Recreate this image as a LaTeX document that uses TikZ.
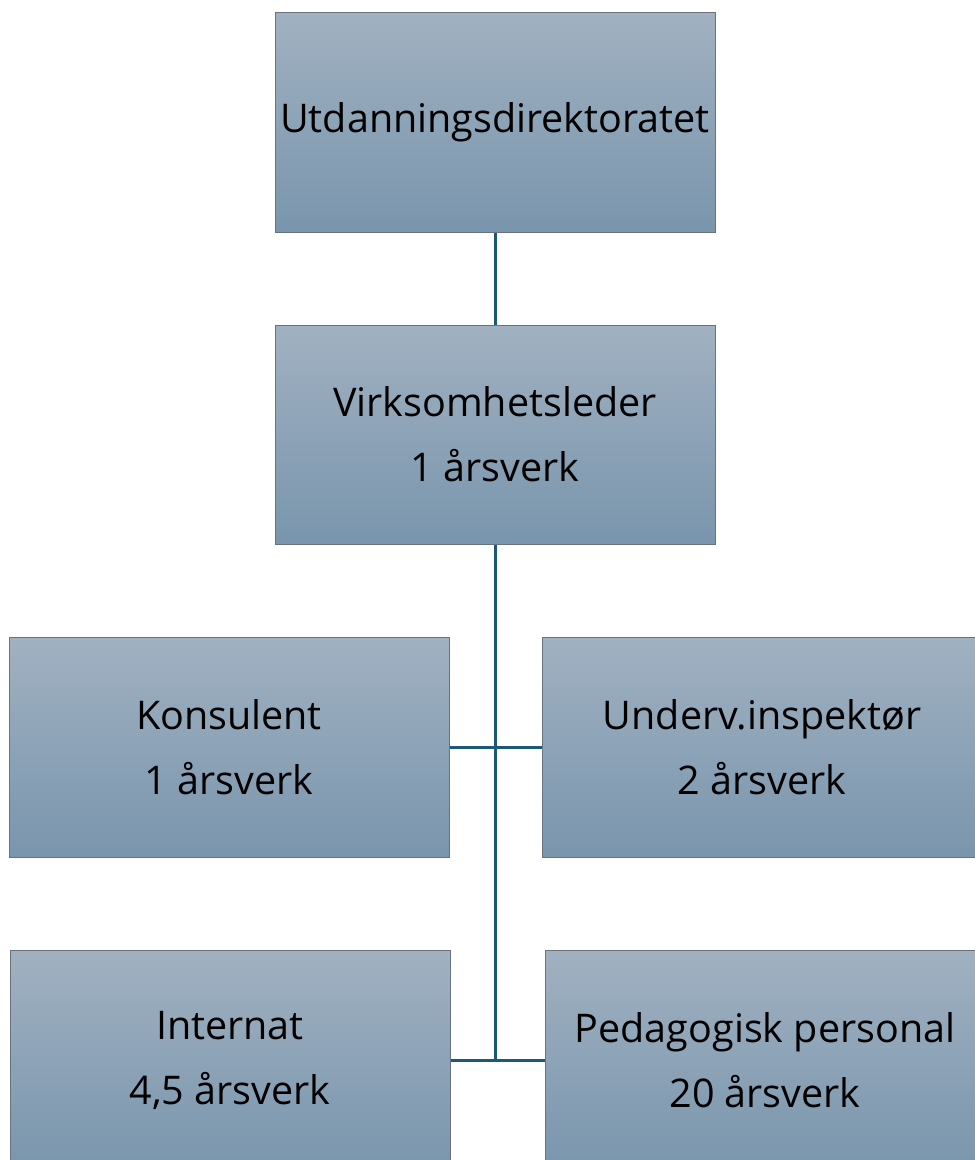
\documentclass[tikz,border=0pt]{standalone}
\usepackage{fontspec}
\setmainfont{Open Sans}
\definecolor{boxtop}{RGB}{161,177,193}
\definecolor{boxbot}{RGB}{121,149,173}
\definecolor{boxedge}{RGB}{105,115,125}
\definecolor{linkcol}{RGB}{28,88,120}
\begin{document}
\begin{tikzpicture}[x=1pt,y=-1pt,
  orgbox/.style={draw=boxedge,line width=1pt,top color=boxtop,bottom color=boxbot,
    minimum width=440pt,minimum height=220pt,inner sep=0pt,align=center,
    font=\fontsize{39.5}{65}\selectfont},
  link/.style={draw=linkcol,line width=3pt}]
\useasboundingbox (0,0) rectangle (975,1160);
\clip (0,0) rectangle (975,1160);
\node[orgbox] (top) at (495,122) {Utdanningsdirektoratet};
\node[orgbox,minimum height=219pt] (virk) at (495,434.5) {Virksomhetsleder\\1 årsverk};
\node[orgbox] (kons) at (229,747) {Konsulent\\1 årsverk};
\node[orgbox] (underv) at (762,747) {Underv.inspektør\\2 årsverk};
\node[orgbox] (intern) at (230,1060) {Internat\\4,5 årsverk};
\node[orgbox] (ped) at (765,1060) {Pedagogisk personal\\20 årsverk};
\coordinate (bend) at (495,1060);
\draw[link] (top.south) -- (virk.north);
\draw[link] (virk.south) -- (bend);
\draw[link] (kons.east) -- (underv.west);
\draw[link] (intern.east) -- (ped.west);
\end{tikzpicture}
\end{document}
